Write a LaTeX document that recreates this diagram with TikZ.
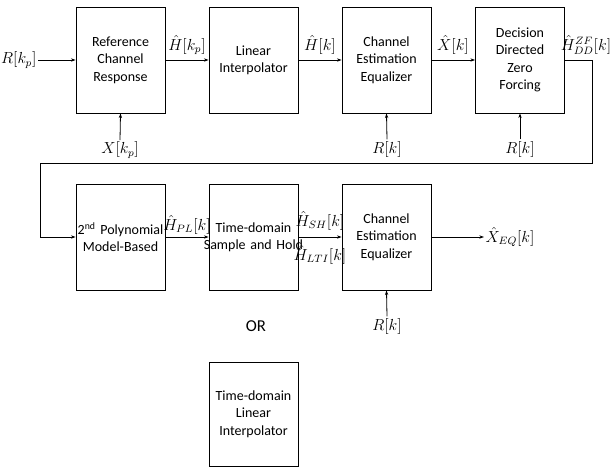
\documentclass[tikz,border=0pt]{standalone}
\usepackage{fontspec}
\setmainfont{Carlito}
\usetikzlibrary{arrows.meta}
\begin{document}
\begin{tikzpicture}[x=0.75pt,y=-0.75pt,
  blk/.style={draw,line width=0.6pt,minimum width=66.75pt,text width=66.75pt,minimum height=79.5pt,inner sep=0pt,align=center,font=\fontsize{10.5}{13}\selectfont},
  lbl/.style={inner sep=1pt,font=\fontsize{11.5}{14}\selectfont},
  arr/.style={line width=0.6pt,-{Stealth[length=3.5pt,width=2.5pt]}},
  ln/.style={line width=0.6pt}]
\useasboundingbox (0,0) rectangle (611,468);
% row 1
\node[blk] (ref) at (120.5,60) {Reference\\Channel\\Response};
\node[blk] (li) at (253.5,60) {Linear\\Interpolator};
\node[blk] (cee) at (386.5,60) {Channel\\Estimation\\Equalizer};
\node[blk] (dd) at (520,60) {Decision\\Directed\\Zero\\Forcing};
% row 2
\node[blk] (poly) at (120.5,237) {\makebox[66.75pt]{2\textsuperscript{nd} Polynomial}\\Model-Based};
\node[blk] (sh) at (253.5,237) {Time-domain\\\makebox[66.75pt]{Sample and Hold}};
\node[blk,minimum height=78pt] (lti) at (253.5,414) {Time-domain\\Linear\\Interpolator};
\node[blk] (cee2) at (386.5,237) {Channel\\Estimation\\Equalizer};
\node[font=\fontsize{12.5}{14}\selectfont] (or) at (256,326) {OR};
% labels
\node[lbl,anchor=east] (rkp) at (38,60) {$R[k_p]$};
\node[lbl] (xkp) at (120,150) {$X[k_p]$};
\node[lbl] (rk1) at (387,149) {$R[k]$};
\node[lbl] (rk2) at (520,149) {$R[k]$};
\node[lbl] (rk3) at (387,326) {$R[k]$};
\node[lbl] (hkp) at (187,45) {$\hat H[k_p]$};
\node[lbl] (hk) at (320,45) {$\hat H[k]$};
\node[lbl] (xk) at (453,45) {$\hat X[k]$};
\node[lbl] (hdd) at (586,45) {$\hat H_{DD}^{ZF}[k]$};
\node[lbl] (hpl) at (187,225) {$\hat H_{PL}[k]$};
\node[lbl] (hsh) at (320,221) {$\hat H_{SH}[k]$};
\node[lbl] (hlti) at (320,255) {$\hat H_{LTI}[k]$};
\node[lbl,anchor=west] (xeq) at (484,237) {$\hat X_{EQ}[k]$};
% connectors
\draw[arr] (rkp.east) -- (ref.west);
\draw[arr] (ref.east) -- (li.west);
\draw[arr] (li.east) -- (cee.west);
\draw[arr] (cee.east) -- (dd.west);
\draw[arr] (xkp.north) -- (ref.south);
\draw[arr] (rk1.north) -- (cee.south);
\draw[arr] (rk2.north) -- (dd.south);
\coordinate (c1) at (592,163);
\coordinate (c2) at (40,163);
\draw[arr] (dd.east) -| (c1) -- (c2) |- (poly.west);
\draw[arr] (poly.east) -- (sh.west);
\draw[arr] (sh.east) -- (cee2.west);
\draw[arr] (cee2.east) -- (xeq.west);
\draw[arr] (rk3.north) -- (cee2.south);
\end{tikzpicture}
\end{document}
